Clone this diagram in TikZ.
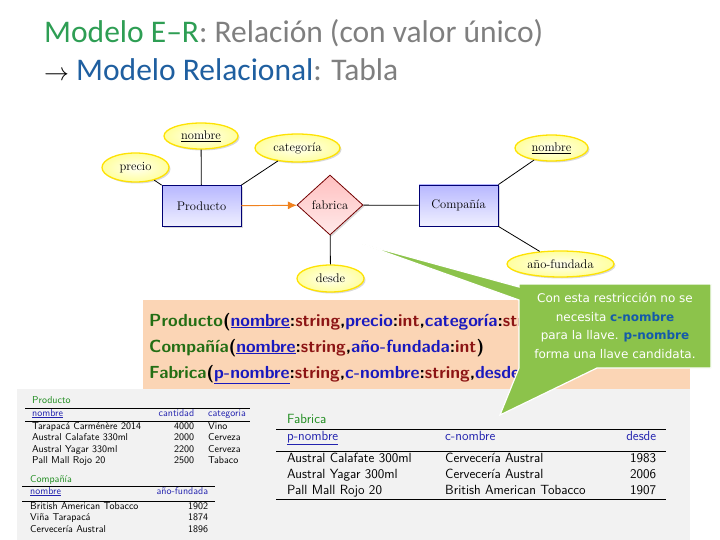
\documentclass[tikz,border=0pt]{standalone}
\usepackage{fontspec}
\usepackage{array}
\newfontfamily\titlefont{Carlito}
\newfontfamily\notefont{DejaVu Sans}
\usetikzlibrary{shapes.geometric}
\usetikzlibrary{shadows}
\usetikzlibrary{arrows.meta}
\tikzset{>=latex}

\definecolor{titlegreen}{RGB}{46,158,84}
\definecolor{titleblue}{RGB}{31,95,160}
\definecolor{titlegray}{RGB}{127,127,127}
\definecolor{schemagreen}{RGB}{35,110,20}
\definecolor{schemablue}{RGB}{25,25,190}
\definecolor{schemared}{RGB}{140,20,20}
\definecolor{salmon}{RGB}{251,213,181}
\definecolor{panelgray}{RGB}{242,242,242}
\definecolor{notegreen}{RGB}{140,195,75}
\definecolor{noteblue}{RGB}{20,90,170}
\definecolor{tabgreen}{RGB}{30,140,30}
\definecolor{tabblue}{RGB}{35,35,175}
\definecolor{erorange}{RGB}{240,130,30}

\newcommand{\sattr}[1]{\textcolor{schemablue}{#1}}
\newcommand{\skey}[1]{\textcolor{schemablue}{\underline{#1}}}
\newcommand{\stype}[1]{\textcolor{schemared}{#1}}
\newcommand{\colhead}[1]{\textcolor{tabblue}{#1}}
\newcommand{\colkey}[1]{\textcolor{tabblue}{\underline{#1}}}

\tikzset{
	erbox/.style = {drop shadow = {shadow xshift = 1.5pt, shadow yshift = -1.5pt, opacity = 0.3}},
	entity/.style = {erbox, draw = blue!45!black, line width = 0.8pt, top color = blue!28!white, bottom color = blue!6!white, minimum width = 79pt, minimum height = 41pt},
	relation/.style = {erbox, diamond, draw = red!45!black, line width = 0.8pt, top color = red!25!white, bottom color = red!8!white, minimum width = 66pt, minimum height = 60pt, inner sep = 0pt},
	attrib/.style = {erbox, ellipse, draw = yellow!85!orange, line width = 1.3pt, inner color = yellow!5, outer color = yellow!38, inner sep = 0pt, minimum height = 26pt},
	table/.style = {anchor = north west, inner sep = 0pt, font = \sffamily},
	schema/.style = {anchor = base west, inner sep = 0pt, font = \sffamily\bfseries\fontsize{17.5}{20}\selectfont}
}

\begin{document}
\begin{tikzpicture}[x = 1pt, y = -1pt, font = {\fontsize{12.5}{15}\selectfont}]
\useasboundingbox (0, 0) rectangle (720, 540);

% titulo
\node[anchor = base west, inner sep = 0pt, font = \titlefont\fontsize{31.5}{36}\selectfont] (title1) at (44, 43)
	{\textcolor{titlegreen}{Modelo E–R}\textcolor{titlegray}{: Relación (con valor único)}};
\node[anchor = base west, inner sep = 0pt, font = \titlefont\fontsize{31.5}{36}\selectfont] (title2) at (44, 81)
	{$\rightarrow$ \textcolor{titleblue}{Modelo Relacional}\textcolor{titlegray}{: Tabla}};

% diagrama E-R
\node[entity] (Prod) at (201.5, 206) {Producto};
\node[relation] (fab) at (330, 205) {fabrica};
\node[entity] (Comp) at (458.5, 205.5) {Compañía};

\node[attrib, minimum width = 74pt] (nomP) at (201, 136) {\underline{nombre}};
\node[attrib, minimum width = 67pt, minimum height = 29pt] (precio) at (135.5, 167.5) {precio};
\node[attrib, minimum width = 85pt, minimum height = 28pt] (cat) at (297.5, 148) {categoría};
\node[attrib, minimum width = 67pt, minimum height = 27pt] (desde) at (330.5, 278.5) {desde};
\node[attrib, minimum width = 73pt] (nomC) at (551.5, 148) {\underline{nombre}};
\node[attrib, minimum width = 107pt] (anio) at (560.5, 264) {año-fundada};

\draw[line width = 0.8pt] (nomP) -- (Prod);
\draw[line width = 0.8pt] (precio) -- (Prod.north west);
\draw[line width = 0.8pt] (cat) -- (Prod.north east);
\draw[erorange, line width = 0.9pt, -{Latex[length = 9pt, width = 8pt]}] (Prod) -- (fab);
\draw[line width = 0.8pt] (fab) -- (Comp);
\draw[line width = 0.8pt] (fab) -- (desde);
\draw[line width = 0.8pt] (Comp.north east) -- (nomC);
\draw[line width = 0.8pt] (Comp.south east) -- (anio);

% esquema relacional
\fill[salmon] (143, 300) rectangle (690, 389);
\node[schema] (relP) at (149, 326)
	{\textcolor{schemagreen}{Producto}(\skey{nombre}:\stype{string},\sattr{precio}:\stype{int},\sattr{categoría}:\stype{string})};
\node[schema] (relC) at (149, 352)
	{\textcolor{schemagreen}{Compañía}(\skey{nombre}:\stype{string},\sattr{año-fundada}:\stype{int})};
\node[schema] (relF) at (149, 378)
	{\textcolor{schemagreen}{Fabrica}(\skey{p-nombre}:\stype{string},\sattr{c-nombre}:\stype{string},\sattr{desde}:\stype{int})};

% tablas
\fill[panelgray] (17, 389) rectangle (690, 540);

\node[table] (tabP) at (25, 395) {\fontsize{10}{11.5}\selectfont
	\begin{tabular}{@{\hspace{7pt}}p{115pt}@{}>{\raggedleft\arraybackslash}p{47pt}@{\hspace{14pt}}p{40pt}@{\hspace{2pt}}}
	\multicolumn{3}{@{\hspace{7pt}}l}{\textcolor{tabgreen}{Producto}} \\[1pt] \hline
	\colkey{nombre} & \colhead{cantidad} & \colhead{categoria} \\[1pt] \hline
	Tarapacá Carménère 2014 & 4000 & Vino \\
	Austral Calafate 330ml & 2000 & Cerveza \\
	Austral Yagar 330ml & 2200 & Cerveza \\
	Pall Mall Rojo 20 & 2500 & Tabaco \\
	\end{tabular}};

\node[table] (tabC) at (22, 474) {\fontsize{10}{11.5}\selectfont
	\begin{tabular}{@{\hspace{8pt}}p{110pt}@{}>{\raggedleft\arraybackslash}p{68pt}@{\hspace{7pt}}}
	\multicolumn{2}{@{\hspace{8pt}}l}{\textcolor{tabgreen}{Compañía}} \\ \hline
	\colkey{nombre} & \colhead{año-fundada} \\[3pt] \hline
	British American Tobacco & 1902 \\
	Viña Tarapacá & 1874 \\
	Cervecería Austral & 1896 \\
	\end{tabular}};

\node[table] (tabF) at (276, 412.5) {\fontsize{13.3}{16}\selectfont
	\begin{tabular}{@{\hspace{11pt}}p{158pt}@{}p{150pt}@{}>{\raggedleft\arraybackslash}p{61pt}@{\hspace{10pt}}}
	\multicolumn{3}{@{\hspace{11pt}}l}{\textcolor{tabgreen}{Fabrica}} \\ \hline
	\colkey{p-nombre} & \colhead{c-nombre} & \colhead{desde} \\[5.5pt] \hline
	Austral Calafate 300ml & Cervecería Austral & 1983 \\
	Austral Yagar 300ml & Cervecería Austral & 2006 \\
	Pall Mall Rojo 20 & British American Tobacco & 1907 \\ \hline
	\end{tabular}};

% nota
\filldraw[notegreen, draw = white, line width = 1.2pt] (519, 284) -- (711, 284) -- (711, 368) -- (597, 368) -- (500, 415) -- (519, 368) -- (519, 300) -- (362, 244) -- (519, 287) -- cycle;
\node[text = white, align = center, font = \notefont\fontsize{12}{18.5}\selectfont] (note) at (615, 326)
	{Con esta restricción no se \\ necesita \textbf{\textcolor{noteblue}{c-nombre}} \\ para la llave. \textbf{\textcolor{noteblue}{p-nombre}} \\ forma una llave candidata.};
\end{tikzpicture}
\end{document}
